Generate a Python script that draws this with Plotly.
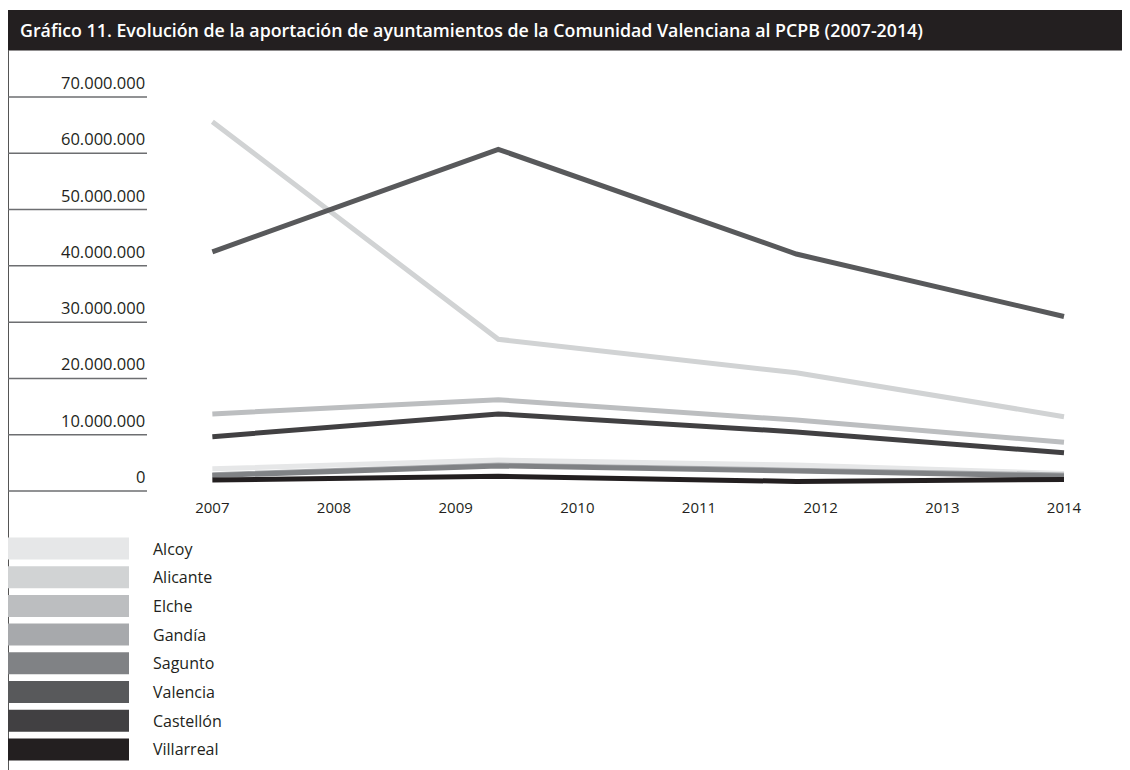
import plotly.graph_objects as go

# datos (euros)
anios = [2007, 2009.35, 2011.8, 2014]
anios_eje = [2007, 2008, 2009, 2010, 2011, 2012, 2013, 2014]
municipios = ["Alcoy", "Alicante", "Elche", "Gandía", "Sagunto", "Valencia", "Castellón", "Villarreal"]
alcoy = [3960000, 5500000, 4600000, 3100000]
alicante = [65600000, 26950000, 21000000, 13200000]
elche = [13700000, 16200000, 12600000, 8650000]
gandia = [2900000, 4600000, 3700000, 2850000]
sagunto = [2750000, 4450000, 3550000, 2650000]
valencia = [42500000, 60700000, 42100000, 31000000]
castellon = [9650000, 13700000, 10500000, 6800000]
villarreal = [1950000, 2600000, 1700000, 2050000]
y_ticks = [0, 10000000, 20000000, 30000000, 40000000, 50000000, 60000000, 70000000]

series = [alcoy, alicante, elche, gandia, sagunto, valencia, castellon, villarreal]
colores = ["#e6e7e8", "#d1d3d4", "#bcbec0", "#a7a9ac", "#808285", "#58595b", "#414042", "#231f20"]

# la pagina html deja 8 px de margen, todo se mide en pixeles de pagina
OFF = 8
W, H = 1130 - OFF, 770 - OFF
PL, PR, PT, PB = 16, 1100, 55, 497


def px(x):
    return (x - PL) / (PR - PL)


def py(y):
    return (PB - y) / (PB - PT)


fuente = "Open Sans"
tinta = "#231f20"

fig = go.Figure()

for nombre, valores, color in zip(municipios, series, colores):
    fig.add_trace(
        go.Scatter(
            x=anios,
            y=valores,
            mode="lines",
            name=nombre,
            line=dict(color=color, width=5),
            showlegend=False,
            hovertemplate=nombre + "<br>%{y:,.0f}<extra></extra>",
        )
    )

shapes = []
annotations = []

# barra del titulo
shapes.append(dict(type="rect", xref="paper", yref="paper",
                   x0=px(7), x1=px(1135), y0=py(50.5), y1=py(10),
                   fillcolor=tinta, line=dict(width=0), layer="above"))
annotations.append(dict(
    xref="paper", yref="paper", x=px(18), y=py(30), xanchor="left", yanchor="middle",
    text="Gráfico 11. Evolución de la aportación de ayuntamientos de la Comunidad Valenciana al PCPB (2007-2014)",
    showarrow=False, font=dict(family=fuente, size=17.8, color="white", weight=600)))

# linea vertical izquierda
shapes.append(dict(type="line", xref="paper", yref="paper",
                   x0=px(8.5), x1=px(8.5), y0=py(50), y1=py(775),
                   line=dict(color="#555555", width=1)))

# etiquetas del eje Y con subrayado
for v in y_ticks:
    shapes.append(dict(type="line", xref="paper", yref="y",
                       x0=px(8), x1=px(147), y0=v, y1=v,
                       line=dict(color="#6d6e71", width=1.5)))
    annotations.append(dict(
        xref="paper", yref="y", x=px(147), y=v, xanchor="right", yanchor="bottom",
        yshift=1, text=f"{v:,}".replace(",", "."), showarrow=False,
        font=dict(family=fuente, size=16.5, color=tinta)))

# leyenda
for i, (nombre, color) in enumerate(zip(municipios, colores)):
    top = 537.5 + i * 28.7
    shapes.append(dict(type="rect", xref="paper", yref="paper",
                       x0=px(8), x1=px(129), y0=py(top + 22), y1=py(top),
                       fillcolor=color, line=dict(width=0)))
    annotations.append(dict(
        xref="paper", yref="paper", x=px(151), y=py(top + 11), xanchor="left", yanchor="middle",
        text=nombre, showarrow=False, font=dict(family=fuente, size=16, color=tinta)))

fig.update_layout(
    width=W,
    height=H,
    margin=dict(l=PL - OFF, r=OFF + W - PR, t=PT - OFF, b=OFF + H - PB),
    paper_bgcolor="white",
    plot_bgcolor="white",
    shapes=shapes,
    annotations=annotations,
    xaxis=dict(
        range=[2005.386, 2014.296],
        tickvals=anios_eje,
        ticktext=[str(a) for a in anios_eje],
        showgrid=False, zeroline=False, showline=False, ticks="",
        tickfont=dict(family=fuente, size=15, color=tinta),
    ),
    yaxis=dict(
        range=[-1066000, 77460000],
        showgrid=False, zeroline=False, showline=False, showticklabels=False,
    ),
)

fig.write_html("out.html")
